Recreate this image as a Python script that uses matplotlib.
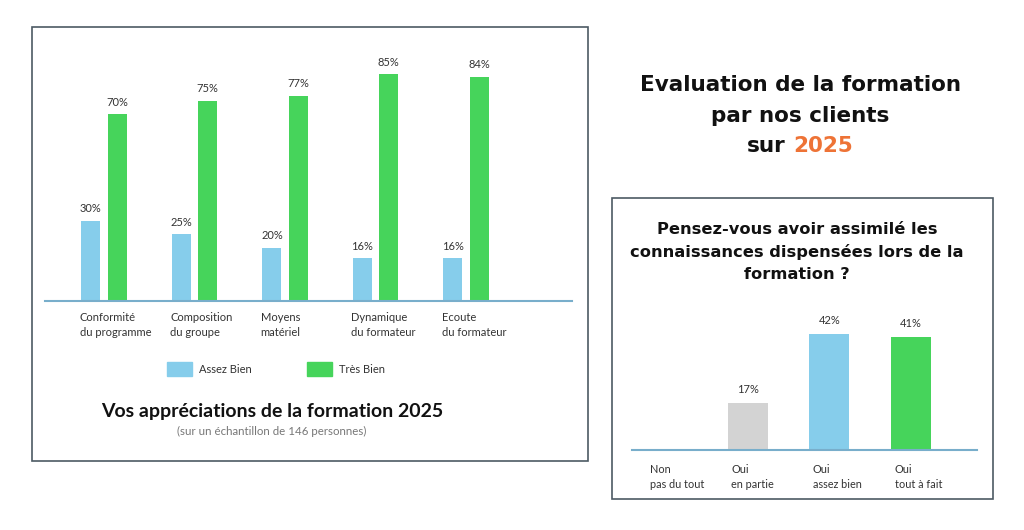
import numpy as np
import matplotlib
matplotlib.use("Agg")
import matplotlib.pyplot as plt
from matplotlib.patches import Rectangle, Patch

plt.rcParams['font.family'] = ['Lato', 'DejaVu Sans']

# Données du graphique de gauche
criteres = ["Conformité\ndu programme", "Composition\ndu groupe", "Moyens\nmatériel",
            "Dynamique\ndu formateur", "Ecoute\ndu formateur"]
assez_bien = [30, 25, 20, 16, 16]
tres_bien = [70, 75, 77, 85, 84]

# Données du graphique de droite
reponses = ["Non\npas du tout", "Oui\nen partie", "Oui\nassez bien", "Oui\ntout à fait"]
pourcentages = [0, 17, 42, 41]

BLEU = "#86CDEB"
VERT = "#46D45B"
GRIS = "#D3D3D3"
ORANGE = "#EE7336"
AXE = "#78AECB"
CADRE = "#4D5A64"
TEXTE = "#333333"
TITRE = ['DejaVu Sans']

W, H = 1024, 530
fig = plt.figure(figsize=(W / 100, H / 100), dpi=100)


def px(x0, y0, x1, y1):
    # convertir un rectangle en pixels (origine en haut) vers coordonnées figure
    return [x0 / W, 1 - y1 / H, (x1 - x0) / W, (y1 - y0) / H]


# Cadres
for x0, y0, x1, y1 in [(32, 27, 588, 461), (612, 198, 993, 499)]:
    b = px(x0, y0, x1, y1)
    fig.patches.append(Rectangle((b[0], b[1]), b[2], b[3], transform=fig.transFigure,
                                 fill=False, edgecolor=CADRE, linewidth=1.2))

# --- Graphique de gauche ---
ax1 = fig.add_axes(px(45, 61, 572, 301))
x = np.arange(len(criteres))
w = 0.21
d = 0.145
b1 = ax1.bar(x - d, assez_bien, w, color=BLEU, label="Assez Bien")
b2 = ax1.bar(x + d, tres_bien, w, color=VERT, label="Très Bien")
for bars in (b1, b2):
    for r in bars:
        ax1.text(r.get_x() + r.get_width() / 2, r.get_height() + 2.5, f"{int(r.get_height())}%",
                 ha="center", va="bottom", fontsize=8, color=TEXTE)
ax1.set_ylim(0, 90)
ax1.set_xlim(-0.652, 5.17)
ax1.set_xticks(x - 0.27)
ax1.set_xticklabels(criteres, ha="left", fontsize=8, color=TEXTE, linespacing=1.45)
ax1.tick_params(axis="x", length=0, pad=8)
ax1.set_yticks([])
for s in ["top", "right", "left"]:
    ax1.spines[s].set_visible(False)
ax1.spines["bottom"].set_color(AXE)
ax1.spines["bottom"].set_linewidth(1.5)
ax1.patch.set_alpha(0)

fig.legend(handles=[Patch(color=BLEU, label="Assez Bien"), Patch(color=VERT, label="Très Bien")],
           loc="center", bbox_to_anchor=(276 / W, 1 - 369 / H), ncol=2, frameon=False,
           fontsize=8, handlelength=2.25, handleheight=1.5, handletextpad=0.65,
           columnspacing=5.0, labelcolor=TEXTE)

fig.text(272 / W, 1 - 412 / H, "Vos appréciations de la formation 2025", ha="center", va="center",
         fontsize=14, fontweight="bold", color="#111111")
fig.text(272 / W, 1 - 431 / H, "(sur un échantillon de 146 personnes)", ha="center", va="center",
         fontsize=8.3, color="#777777")

# --- Titre de droite ---
fig.text(800 / W, 1 - 85 / H, "Evaluation de la formation", ha="center", va="center",
         fontsize=15.5, fontweight="bold", color="#111111", family=TITRE)
fig.text(800 / W, 1 - 116 / H, "par nos clients", ha="center", va="center",
         fontsize=15.5, fontweight="bold", color="#111111", family=TITRE)
fig.text(786 / W, 1 - 146 / H, "sur", ha="right", va="center",
         fontsize=15.5, fontweight="bold", color="#111111", family=TITRE)
fig.text(793 / W, 1 - 146 / H, "2025", ha="left", va="center",
         fontsize=15.5, fontweight="bold", color=ORANGE, family=TITRE)

# --- Graphique de droite ---
fig.text(797 / W, 1 - 252 / H,
         "Pensez-vous avoir assimilé les\nconnaissances dispensées lors de la\nformation ?",
         ha="center", va="center", fontsize=11.7, fontweight="bold", color="#111111",
         linespacing=1.55, family=TITRE)

ax2 = fig.add_axes(px(632, 312, 977, 450))
x2 = np.arange(len(reponses))
couleurs = [GRIS, GRIS, BLEU, VERT]
bars2 = ax2.bar(x2, pourcentages, 0.49, color=couleurs)
for r, v in zip(bars2, pourcentages):
    if v > 0:
        ax2.text(r.get_x() + r.get_width() / 2, v + 3, f"{v}%", ha="center", va="bottom",
                 fontsize=8, color=TEXTE)
ax2.set_ylim(0, 50)
ax2.set_xlim(-0.416, 3.81)
ax2.set_xticks(x2 - 0.2)
ax2.set_xticklabels(reponses, ha="left", fontsize=7.8, color=TEXTE, linespacing=1.5)
ax2.tick_params(axis="x", length=0, pad=10)
ax2.set_yticks([])
for s in ["top", "right", "left"]:
    ax2.spines[s].set_visible(False)
ax2.spines["bottom"].set_color(AXE)
ax2.spines["bottom"].set_linewidth(1.5)
ax2.patch.set_alpha(0)

fig.savefig("out.png", dpi=100)
